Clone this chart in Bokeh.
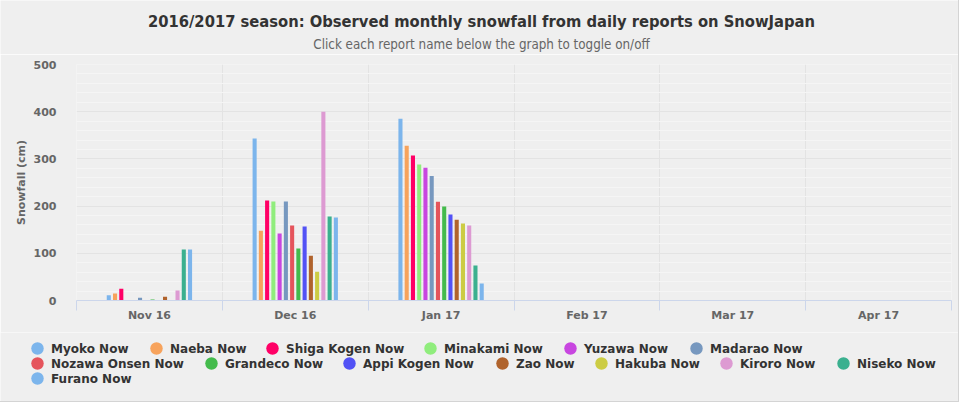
from bokeh.plotting import figure
from bokeh.models import ColumnDataSource, FixedTicker, Range1d
from bokeh.layouts import column
from bokeh.transform import dodge
from bokeh.core.properties import value
from bokeh.embed import file_html
from bokeh.resources import INLINE

# ---------------- data ----------------
months = ["Nov 16", "Dec 16", "Jan 17", "Feb 17", "Mar 17", "Apr 17"]
stations = ["Myoko Now", "Naeba Now", "Shiga Kogen Now", "Minakami Now", "Yuzawa Now",
            "Madarao Now", "Nozawa Onsen Now", "Grandeco Now", "Appi Kogen Now", "Zao Now",
            "Hakuba Now", "Kiroro Now", "Niseko Now", "Furano Now"]
myoko = [11, 343, 385, 0, 0, 0]
naeba = [15, 148, 328, 0, 0, 0]
shiga_kogen = [25, 212, 307, 0, 0, 0]
minakami = [0, 210, 288, 0, 0, 0]
yuzawa = [0, 142, 281, 0, 0, 0]
madarao = [6, 210, 264, 0, 0, 0]
nozawa_onsen = [0, 159, 209, 0, 0, 0]
grandeco = [2, 110, 199, 0, 0, 0]
appi_kogen = [0, 157, 182, 0, 0, 0]
zao = [8, 95, 171, 0, 0, 0]
hakuba = [0, 61, 163, 0, 0, 0]
kiroro = [21, 400, 159, 0, 0, 0]
niseko = [108, 178, 74, 0, 0, 0]
furano = [108, 176, 36, 0, 0, 0]
series = [myoko, naeba, shiga_kogen, minakami, yuzawa, madarao, nozawa_onsen,
          grandeco, appi_kogen, zao, hakuba, kiroro, niseko, furano]
y_ticks = [0, 100, 200, 300, 400, 500]

title_text = "2016/2017 season: Observed monthly snowfall from daily reports on SnowJapan"
subtitle_text = "Click each report name below the graph to toggle on/off"
y_title = "Snowfall (cm)"

# ---------------- styles / layout ----------------
colors = ["#7cb5ec", "#f7a35c", "#ff0066", "#90ed7d", "#c846e0", "#7798bf", "#e5545c",
          "#44bb4c", "#5252f5", "#b0632c", "#cccc44", "#dd9ad2", "#3bb08f", "#7cb5ec"]
BG = "#efefef"
W = 958
LABEL_FONT = "DejaVu Sans"
TITLE_FONT = "Liberation Sans Narrow, DejaVu Sans Condensed, Roboto Condensed, sans-serif"

# legend layout (pixel circle centres and row index)
legend_cx = [37, 156, 272, 430, 570, 696, 37, 211, 349, 502, 601, 726, 843, 37]
legend_row = [0, 0, 0, 0, 0, 0, 1, 1, 1, 1, 1, 1, 1, 2]


def no_align(fig):
    try:
        fig.frame_align = False
    except Exception:
        pass


# ---------------- header ----------------
hdr_h = 54
hdr = figure(frame_width=W, frame_height=hdr_h, x_range=Range1d(0, W), y_range=Range1d(hdr_h, 0),
             output_backend="svg", toolbar_location=None, x_axis_type=None, y_axis_type=None,
             min_border=0, background_fill_color=BG, border_fill_color=BG, outline_line_color=None)
no_align(hdr)
hdr.grid.grid_line_color = None
hdr.text(x=[W / 2 + 2], y=[21], text=[title_text], text_align="center", text_baseline="middle",
         text_font=value(TITLE_FONT), text_font_size="16.4px", text_font_style="bold",
         text_color="#333333")
hdr.text(x=[W / 2 + 2], y=[44], text=[subtitle_text], text_align="center", text_baseline="middle",
         text_font=value(TITLE_FONT), text_font_size="13.3px", text_color="#666666")

# ---------------- main chart ----------------
p = figure(width=W, height=278, x_range=Range1d(0, len(months)), y_range=Range1d(0, 500),
           output_backend="svg", toolbar_location=None,
           min_border_left=76, min_border_right=7, min_border_top=10, min_border_bottom=32,
           background_fill_color=BG, border_fill_color=BG, outline_line_color=None)

data = {"x": [i + 0.5 for i in range(len(months))]}
for name, vals in zip(stations, series):
    data[name] = vals
src = ColumnDataSource(data)

n = len(stations)
slot = 0.6 / n
for j, (name, col) in enumerate(zip(stations, colors)):
    p.vbar(x=dodge("x", (j - (n - 1) / 2) * slot, range=p.x_range), top=name, width=0.028,
           source=src, fill_color=col, line_color=None)

# x axis
xa = p.xaxis[0]
xa.ticker = FixedTicker(ticks=[i + 0.5 for i in range(len(months))],
                        minor_ticks=list(range(len(months) + 1)))
xa.major_label_overrides = {i + 0.5: m for i, m in enumerate(months)}
xa.major_tick_line_color = None
xa.major_tick_out = 0
xa.major_tick_in = 0
xa.minor_tick_out = 10
xa.minor_tick_in = 0
xa.minor_tick_line_color = "#ccd6eb"
xa.axis_line_color = "#ccd6eb"
xa.major_label_standoff = -2
xa.major_label_text_font = LABEL_FONT
xa.major_label_text_font_style = "bold"
xa.major_label_text_font_size = "11px"
xa.major_label_text_color = "#666666"

p.xgrid.ticker = FixedTicker(ticks=list(range(len(months) + 1)))
p.xgrid.grid_line_color = "#e3e3e3"

# y axis
ya = p.yaxis[0]
ya.ticker = FixedTicker(ticks=y_ticks, minor_ticks=list(range(0, 501, 20)))
ya.axis_line_color = None
ya.major_tick_line_color = None
ya.minor_tick_line_color = None
ya.major_tick_out = 0
ya.major_label_standoff = 16
ya.major_label_text_font = LABEL_FONT
ya.major_label_text_font_style = "bold"
ya.major_label_text_font_size = "11px"
ya.major_label_text_color = "#666666"
ya.axis_label = y_title
ya.axis_label_text_font = LABEL_FONT
ya.axis_label_text_font_style = "bold"
ya.axis_label_text_font_size = "11px"
ya.axis_label_text_color = "#666666"
ya.axis_label_standoff = 3

p.ygrid.grid_line_color = "#e3e3e3"
p.ygrid.minor_grid_line_color = "#f5f5f5"

# ---------------- legend ----------------
leg_h = 69
leg = figure(frame_width=W, frame_height=leg_h, x_range=Range1d(0, W), y_range=Range1d(leg_h, 0),
             output_backend="svg", toolbar_location=None, x_axis_type=None, y_axis_type=None,
             min_border=0, background_fill_color=BG, border_fill_color=BG, outline_line_color=None)
no_align(leg)
leg.grid.grid_line_color = None
row_y = [16, 31, 46]
lsrc = ColumnDataSource(dict(
    cx=legend_cx,
    tx=[c + 13.5 for c in legend_cx],
    y=[row_y[r] for r in legend_row],
    label=stations,
    color=colors,
))
leg.scatter(x="cx", y="y", size=12.5, marker="circle", fill_color="color", line_color=None, source=lsrc)
leg.text(x="tx", y="y", text="label", source=lsrc, text_align="left", text_baseline="middle",
         text_font=value(LABEL_FONT), text_font_style="bold", text_font_size="12px",
         text_color="#333333")

layout = column(hdr, p, leg, spacing=0, styles={"outline": "1px solid #d4d4d4"})

open("out.html", "w").write(file_html(layout, INLINE))
